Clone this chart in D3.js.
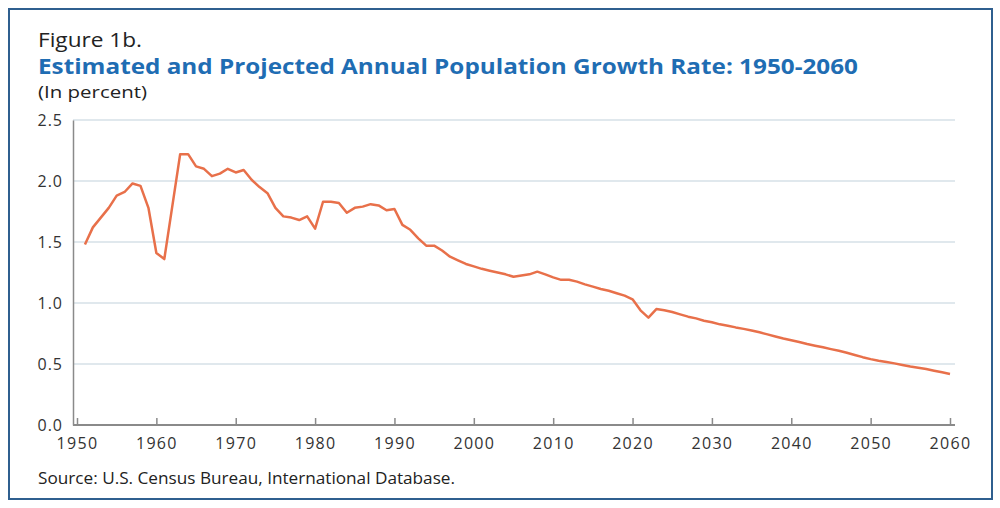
<!DOCTYPE html>
<html>
<head>
<meta charset="utf-8">
<script src="https://cdn.jsdelivr.net/npm/d3@7"></script>
<style>
  body { margin: 0; background: #fff; }
  svg { display: block; font-family: "Open Sans", sans-serif; }
</style>
</head>
<body>
<svg id="chart"></svg>
<script>
// Growth rate, percent (1951-2060)
const years = d3.range(1951, 2061);
const growthRate = [
  1.48, 1.62, 1.70, 1.78, 1.88, 1.91, 1.98, 1.96, 1.78, 1.41,   // 1951-1960
  1.36, 1.79, 2.22, 2.22, 2.12, 2.10, 2.04, 2.06, 2.10, 2.07,   // 1961-1970
  2.09, 2.01, 1.95, 1.90, 1.78, 1.71, 1.70, 1.68, 1.71, 1.61,   // 1971-1980
  1.83, 1.83, 1.82, 1.74, 1.78, 1.79, 1.81, 1.80, 1.76, 1.77,   // 1981-1990
  1.64, 1.60, 1.53, 1.47, 1.47, 1.43, 1.38, 1.35, 1.32, 1.30,   // 1991-2000
  1.28, 1.265, 1.25, 1.235, 1.215, 1.225, 1.235, 1.257, 1.235, 1.21, // 2001-2010
  1.19, 1.19, 1.175, 1.153, 1.134, 1.115, 1.10, 1.08, 1.06, 1.03,    // 2011-2020
  0.94, 0.88, 0.95, 0.94, 0.926, 0.907, 0.888, 0.874, 0.855, 0.842, // 2021-2030
  0.825, 0.814, 0.80, 0.788, 0.775, 0.760, 0.743, 0.726, 0.709, 0.694, // 2031-2040
  0.68, 0.664, 0.65, 0.637, 0.622, 0.608, 0.592, 0.574, 0.556, 0.540,  // 2041-2050
  0.527, 0.516, 0.505, 0.492, 0.48, 0.47, 0.459, 0.445, 0.432, 0.418 // 2051-2060
];
const xTicks = d3.range(1950, 2061, 10);
const yTicks = [0, 0.5, 1.0, 1.5, 2.0, 2.5];

const width = 1000, height = 508;
const svg = d3.select("#chart").attr("width", width).attr("height", height);

// outer frame
svg.append("rect")
  .attr("x", 9).attr("y", 9)
  .attr("width", 983).attr("height", 490)
  .attr("fill", "none")
  .attr("stroke", "#2f5f8f")
  .attr("stroke-width", 2);

// headings (the original face is wider, so stretch to its measured widths)
function heading(txt, yPos, size, w, opts = {}) {
  return svg.append("text")
    .attr("x", 38).attr("y", yPos)
    .attr("font-size", size + "px")
    .attr("font-weight", opts.bold ? "bold" : "normal")
    .attr("fill", opts.color || "#222")
    .attr("textLength", w)
    .attr("lengthAdjust", "spacingAndGlyphs")
    .text(txt);
}
heading("Figure 1b.", 47, 19.5, 104);
heading("Estimated and Projected Annual Population Growth Rate: 1950-2060", 74, 20.5, 820,
  { bold: true, color: "#1f6db3" });
heading("(In percent)", 98, 17, 109);

// scales
const plot = { left: 73, right: 955, top: 120, bottom: 425 };
const x = d3.scaleLinear().domain([1950, 2060]).range([77, 950]);
const y = d3.scaleLinear().domain([0, 2.5]).range([plot.bottom, plot.top]);

// gridlines
svg.append("g")
  .selectAll("line")
  .data(yTicks.filter(d => d > 0))
  .join("line")
  .attr("x1", plot.left).attr("x2", plot.right)
  .attr("y1", d => y(d)).attr("y2", d => y(d))
  .attr("stroke", "#d6e0e7")
  .attr("stroke-width", 1.5);

// y axis
const yAxis = svg.append("g")
  .attr("transform", `translate(${plot.left},0)`)
  .call(d3.axisLeft(y).tickValues(yTicks).tickFormat(d3.format(".1f")).tickSize(0).tickPadding(10));
yAxis.select(".domain").attr("stroke", "#8a8a8a").attr("stroke-width", 1.5);
yAxis.selectAll("text")
  .attr("font-size", "16px")
  .attr("letter-spacing", "1px")
  .attr("font-family", "'Open Sans', sans-serif")
  .attr("fill", "#333");

// x axis, ticks pointing up into the plot
const xAxis = svg.append("g")
  .attr("transform", `translate(0,${plot.bottom})`)
  .call(d3.axisBottom(x).tickValues(xTicks).tickFormat(d3.format("d")).tickSize(0).tickPadding(13));
xAxis.select(".domain").remove();
xAxis.append("line")
  .attr("x1", plot.left).attr("x2", plot.right)
  .attr("stroke", "#8a8a8a").attr("stroke-width", 2);
xAxis.selectAll(".tick").append("line")
  .attr("y1", 0).attr("y2", -7)
  .attr("stroke", "#8a8a8a").attr("stroke-width", 1.5);
xAxis.selectAll("text")
  .attr("font-size", "16px")
  .attr("letter-spacing", "1.3px")
  .attr("font-family", "'Open Sans', sans-serif")
  .attr("fill", "#333");

// growth rate line
const line = d3.line()
  .x((d, i) => x(years[i]))
  .y(d => y(d));

svg.append("path")
  .datum(growthRate)
  .attr("d", line)
  .attr("fill", "none")
  .attr("stroke", "#e8704a")
  .attr("stroke-width", 2.5)
  .attr("stroke-linejoin", "round");

// source note
svg.append("text")
  .attr("x", 38).attr("y", 484)
  .attr("font-size", "16px")
  .attr("fill", "#222")
  .attr("textLength", 417)
  .attr("lengthAdjust", "spacingAndGlyphs")
  .text("Source: U.S. Census Bureau, International Database.");
</script>
</body>
</html>
